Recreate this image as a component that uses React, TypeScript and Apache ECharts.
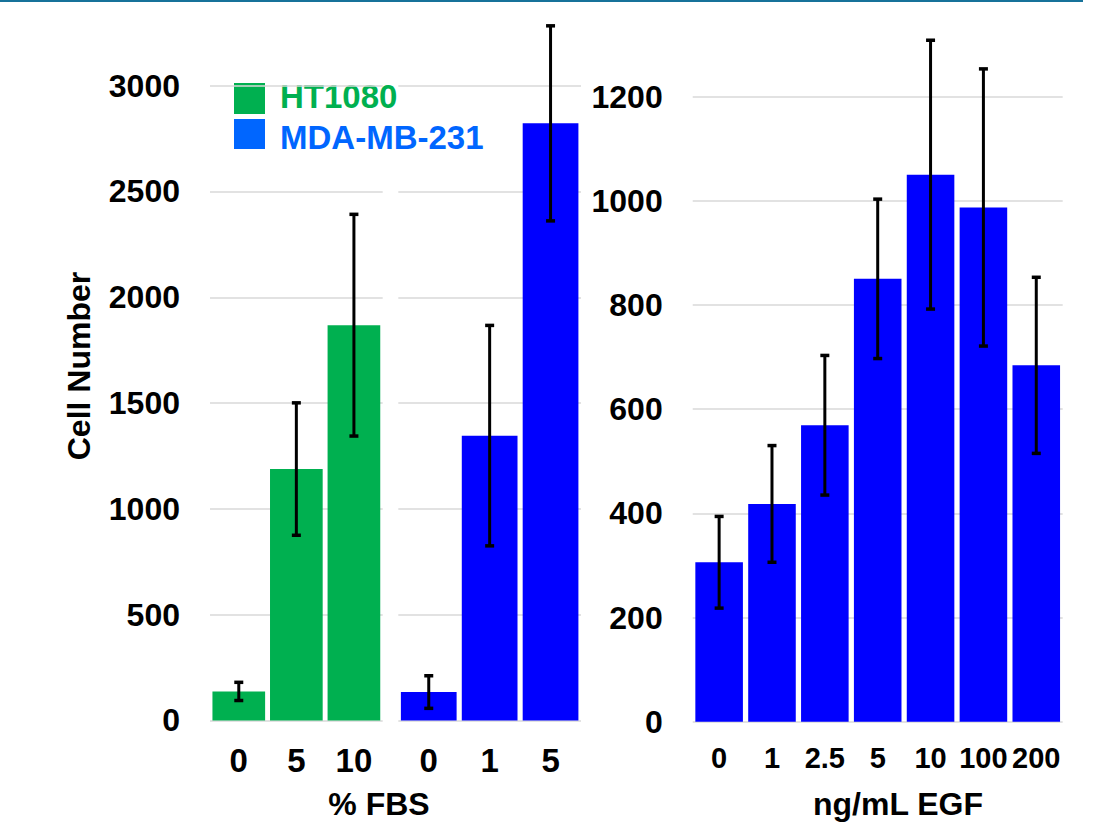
import React, { useEffect, useRef } from "react";
import * as echarts from "echarts";

// ---- data ----
const htCats = ["0", "5", "10"];
const htMeans = [137, 1188, 1868];
const htErr = [43, 313, 524];

const mdaCats = ["0", "1", "5"];
const mdaMeans = [134, 1346, 2822];
const mdaErr = [77, 521, 461];

const egfCats = ["0", "1", "2.5", "5", "10", "100", "200"];
const egfMeans = [306, 418, 569, 850, 1050, 987, 684];
const egfErr = [88, 112, 134, 153, 258, 266, 169];

const leftTicks = { min: 0, max: 3000, interval: 500 };
const rightTicks = { min: 0, max: 1200, interval: 200 };

const legendItems = ["HT1080", "MDA-MB-231"];

const FONT = 'Arial, "Liberation Sans", sans-serif';
const GREEN = "#00b050";
const BLUE = "#0000ff";
const LEGEND_BLUE = "#0066ff";
const GRID_COLOR = "#d9d9d9";

function errData(means: number[], errs: number[]) {
  return means.map((m, i) => [i, m - errs[i], m + errs[i]]);
}

function renderErr(params: any, api: any) {
  const x = api.value(0);
  const lo = api.coord([x, api.value(1)]);
  const hi = api.coord([x, api.value(2)]);
  const cw = 9;
  return {
    type: "group",
    children: [
      { type: "line", shape: { x1: lo[0], y1: lo[1], x2: hi[0], y2: hi[1] }, style: { stroke: "#000", lineWidth: 3 } },
      { type: "line", shape: { x1: hi[0] - cw / 2, y1: hi[1], x2: hi[0] + cw / 2, y2: hi[1] }, style: { stroke: "#000", lineWidth: 3.5 } },
      { type: "line", shape: { x1: lo[0] - cw / 2, y1: lo[1], x2: lo[0] + cw / 2, y2: lo[1] }, style: { stroke: "#000", lineWidth: 3.5 } },
    ],
  };
}

export default function App() {
  const ref = useRef<HTMLDivElement>(null);
  useEffect(() => {
    if (!ref.current) return;
    const chart = echarts.init(ref.current, undefined, { renderer: "svg" });
    const yLabel = {
      fontFamily: FONT,
      fontWeight: "bold",
      fontSize: 32,
      color: "#000",
      margin: 30,
      formatter: (v: number) => String(v),
    };
    const splitLine = { show: true, lineStyle: { color: GRID_COLOR, width: 1.5 } };
    const xBase = (data: string[], grid: number, fs: number, margin: number) => ({
      type: "category",
      gridIndex: grid,
      data,
      axisLine: { show: false },
      axisTick: { show: false },
      axisLabel: { fontFamily: FONT, fontWeight: "bold", fontSize: fs, color: "#000", margin, interval: 0 },
    });
    chart.setOption({
      animation: false,
      backgroundColor: "#fff",
      grid: [
        { left: 210, top: 85.7, width: 172.7, height: 634.7 },
        { left: 398.3, top: 85.7, width: 182.7, height: 634.7 },
        { left: 692.7, top: 96.5, width: 370, height: 625.2 },
      ],
      xAxis: [xBase(htCats, 0, 33, 24), xBase(mdaCats, 1, 33, 24), xBase(egfCats, 2, 29, 22)],
      yAxis: [
        { type: "value", gridIndex: 0, ...leftTicks, axisLabel: yLabel, axisLine: { show: false }, axisTick: { show: false }, splitLine },
        { type: "value", gridIndex: 1, ...leftTicks, axisLabel: { show: false }, axisLine: { show: false }, axisTick: { show: false }, splitLine },
        { type: "value", gridIndex: 2, ...rightTicks, axisLabel: yLabel, axisLine: { show: false }, axisTick: { show: false }, splitLine },
      ],
      series: [
        { type: "bar", xAxisIndex: 0, yAxisIndex: 0, data: htMeans, barCategoryGap: "8.5%", itemStyle: { color: GREEN } },
        { type: "bar", xAxisIndex: 1, yAxisIndex: 1, data: mdaMeans, barCategoryGap: "8.5%", itemStyle: { color: BLUE } },
        { type: "bar", xAxisIndex: 2, yAxisIndex: 2, data: egfMeans, barCategoryGap: "10%", itemStyle: { color: BLUE } },
        { type: "custom", xAxisIndex: 0, yAxisIndex: 0, data: errData(htMeans, htErr), renderItem: renderErr, clip: false, z: 10 },
        { type: "custom", xAxisIndex: 1, yAxisIndex: 1, data: errData(mdaMeans, mdaErr), renderItem: renderErr, clip: false, z: 10 },
        { type: "custom", xAxisIndex: 2, yAxisIndex: 2, data: errData(egfMeans, egfErr), renderItem: renderErr, clip: false, z: 10 },
      ],
      graphic: [
        { type: "line", shape: { x1: 0, y1: 1, x2: 1083, y2: 1 }, style: { stroke: "#17729a", lineWidth: 2 } },
        { type: "rect", shape: { x: 234, y: 83, width: 31, height: 31 }, style: { fill: GREEN } },
        { type: "rect", shape: { x: 234, y: 119, width: 31, height: 30 }, style: { fill: LEGEND_BLUE } },
        { type: "text", x: 280, y: 96, style: { text: legendItems[0], fill: GREEN, font: `bold 33px ${FONT}`, verticalAlign: "middle" } },
        { type: "text", x: 280, y: 137, style: { text: legendItems[1], fill: LEGEND_BLUE, font: `bold 33px ${FONT}`, verticalAlign: "middle" } },
        { type: "text", x: 379, y: 804, style: { text: "% FBS", fill: "#000", font: `bold 32px ${FONT}`, align: "center", verticalAlign: "middle" } },
        { type: "text", x: 898, y: 804, style: { text: "ng/mL EGF", fill: "#000", font: `bold 32px ${FONT}`, align: "center", verticalAlign: "middle" } },
        { type: "text", x: 79, y: 366, rotation: Math.PI / 2, style: { text: "Cell Number", fill: "#000", font: `bold 32px ${FONT}`, align: "center", verticalAlign: "middle" } },
      ],
    });
    return () => chart.dispose();
  }, []);
  return <div ref={ref} style={{ position: "fixed", left: 0, top: 0, width: 1096, height: 823 }} />;
}
